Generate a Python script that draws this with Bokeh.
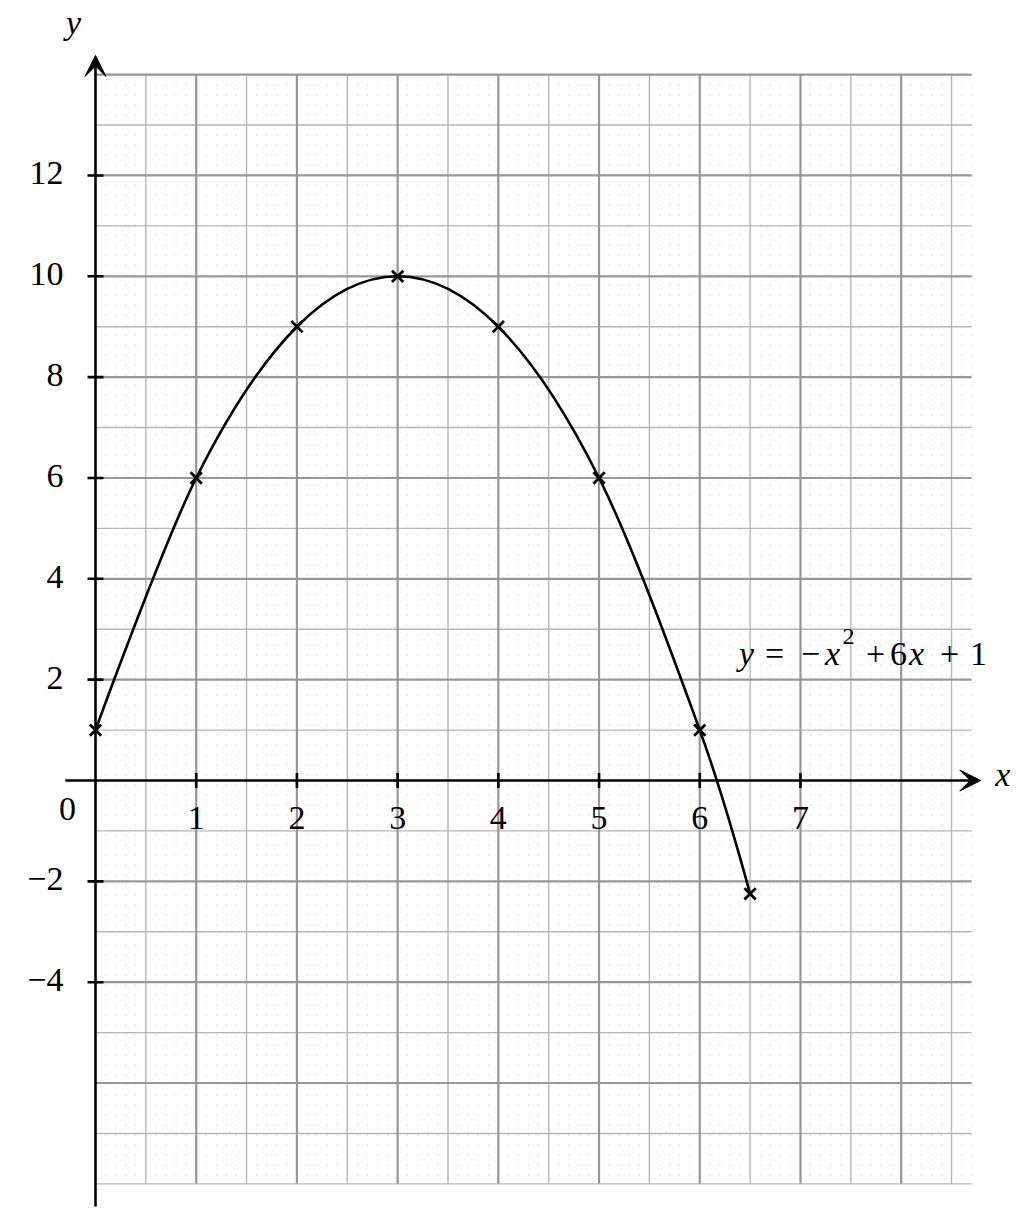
import numpy as np
from bokeh.plotting import figure
from bokeh.models import Range1d, Arrow, VeeHead
from bokeh.core.properties import value
from bokeh.embed import file_html
from bokeh.resources import INLINE

# ---- data ----
x_pts = [0, 1, 2, 3, 4, 5, 6, 6.5]
y_pts = [1, 6, 9, 10, 9, 6, 1, -2.25]
x_ticks = [1, 2, 3, 4, 5, 6, 7]
x_tick_labels = ["1", "2", "3", "4", "5", "6", "7"]
y_ticks = [12, 10, 8, 6, 4, 2, -2, -4]
y_tick_labels = ["12", "10", "8", "6", "4", "2", "\u22122", "\u22124"]
eq_italic = ["y", "x", "x"]
eq_roman = ["=", "\u2212", "+", "6", "+", "1"]
eq_sup = ["2"]

# ---- layout constants ----
W, H = 1030, 1210
SX, SY = 100.71, 50.42          # px per unit
X0 = -95 / SX
Y1 = 780 / SY
x_range = Range1d(X0, X0 + W / SX)
y_range = Range1d(Y1 - H / SY, Y1)

p = figure(width=W, height=H, x_range=x_range, y_range=y_range,
           x_axis_type=None, y_axis_type=None, min_border=0,
           toolbar_location=None, output_backend="svg",
           outline_line_color=None, background_fill_color="white")
p.grid.visible = False

GX0, GX1, GY0, GY1 = 0.0, 8.7, -8.0, 14.0
FONT = value("Liberation Serif")
FS = "34px"
BL = -13   # baseline correction (px)

# dotted fine grid (vertical dotted lines -> dot lattice)
xd = np.round(np.arange(0.1, GX1 + 0.01, 0.1), 2)
xd = xd[np.abs(xd * 2 - np.round(xd * 2)) > 1e-6]
p.segment(x0=xd, y0=np.full(len(xd), GY1), x1=xd, y1=np.full(len(xd), GY0),
          line_color="#c4c4c4", line_width=1, line_dash="1 9")

# minor grid
xm = np.arange(0.5, GX1, 1.0)
p.segment(x0=xm, y0=np.full(len(xm), GY0), x1=xm, y1=np.full(len(xm), GY1),
          line_color="#b5b5b5", line_width=1.4)
ym = np.concatenate([np.arange(-7, 14, 2), [GY0]])
p.segment(x0=np.full(len(ym), GX0), y0=ym, x1=np.full(len(ym), GX1), y1=ym,
          line_color="#b5b5b5", line_width=1.4)

# major grid
xM = np.arange(1, 9, 1)
p.segment(x0=xM, y0=np.full(len(xM), GY0), x1=xM, y1=np.full(len(xM), GY1),
          line_color="#979797", line_width=2.2)
yM = np.array([v for v in range(-6, 15, 2) if v != 0])
p.segment(x0=np.full(len(yM), GX0), y0=yM, x1=np.full(len(yM), GX1), y1=yM,
          line_color="#979797", line_width=2.2)

# axes with arrow heads
p.add_layout(Arrow(end=VeeHead(size=21, fill_color="black", line_color="black", line_width=1),
                   x_start=-0.3, y_start=0, x_end=8.79, y_end=0,
                   line_color="black", line_width=2.6))
p.add_layout(Arrow(end=VeeHead(size=21, fill_color="black", line_color="black", line_width=1),
                   x_start=0, y_start=-8.45, x_end=0, y_end=14.38,
                   line_color="black", line_width=2.6))

# tick marks
p.scatter(x=x_ticks, y=[0] * len(x_ticks), marker="dash", angle=np.pi / 2,
          size=15, line_color="black", line_width=2.6)
p.scatter(x=[0] * len(y_ticks), y=y_ticks, marker="dash",
          size=16, line_color="black", line_width=2.6)

# tick labels
p.text(x=x_ticks, y=[0] * len(x_ticks), text=x_tick_labels, y_offset=50 + BL,
       text_align="center", text_baseline="alphabetic",
       text_font=FONT, text_font_size=FS, text_color="black")
p.text(x=[0] * len(y_ticks), y=y_ticks, text=y_tick_labels, x_offset=-32, y_offset=11 + BL,
       text_align="right", text_baseline="alphabetic",
       text_font=FONT, text_font_size=FS, text_color="black")
p.text(x=[0], y=[0], text=["0"], x_offset=-28, y_offset=41 + BL,
       text_align="center", text_baseline="alphabetic",
       text_font=FONT, text_font_size=FS, text_color="black")

# axis labels
p.text(x=[8.79], y=[0], text=["x"], x_offset=22, y_offset=7 + BL,
       text_align="center", text_baseline="alphabetic", text_font_style="italic",
       text_font=FONT, text_font_size=FS, text_color="black")
p.text(x=[0], y=[14.38], text=["y"], x_offset=-22, y_offset=-20 + BL,
       text_align="center", text_baseline="alphabetic", text_font_style="italic",
       text_font=FONT, text_font_size=FS, text_color="black")

# curve: smooth cubic Bezier through the points (TikZ-like "smooth")
xp = np.array(x_pts, float)
yp = np.array(y_pts, float)
f = 0.5 / 3
tx = np.zeros(len(xp)); ty = np.zeros(len(yp))
tx[1:-1] = f * (xp[2:] - xp[:-2])
ty[1:-1] = f * (yp[2:] - yp[:-2])
p.bezier(x0=xp[:-1], y0=yp[:-1], x1=xp[1:], y1=yp[1:],
         cx0=xp[:-1] + tx[:-1], cy0=yp[:-1] + ty[:-1],
         cx1=xp[1:] - tx[1:], cy1=yp[1:] - ty[1:],
         line_color="black", line_width=2.6)
p.scatter(x=x_pts, y=y_pts, marker="x", size=16, line_color="black", line_width=2.8)

# equation label  y = -x^2 + 6x + 1
EQX, EQY = 6.385, 2.261
p.text(x=[EQX] * 3, y=[EQY] * 3, text=eq_italic, x_offset=[8, 94, 178], y_offset=BL,
       text_align="center", text_baseline="alphabetic", text_font_style="italic",
       text_font=FONT, text_font_size=FS, text_color="black")
p.text(x=[EQX] * 6, y=[EQY] * 6, text=eq_roman, x_offset=[36, 72, 137, 160, 211, 240],
       y_offset=BL, text_align="center", text_baseline="alphabetic",
       text_font=FONT, text_font_size=FS, text_color="black")
p.text(x=[EQX], y=[EQY], text=eq_sup, x_offset=[110], y_offset=-17 + BL,
       text_align="center", text_baseline="alphabetic",
       text_font=FONT, text_font_size="24px", text_color="black")

open("out.html", "w").write(file_html(p, INLINE))
